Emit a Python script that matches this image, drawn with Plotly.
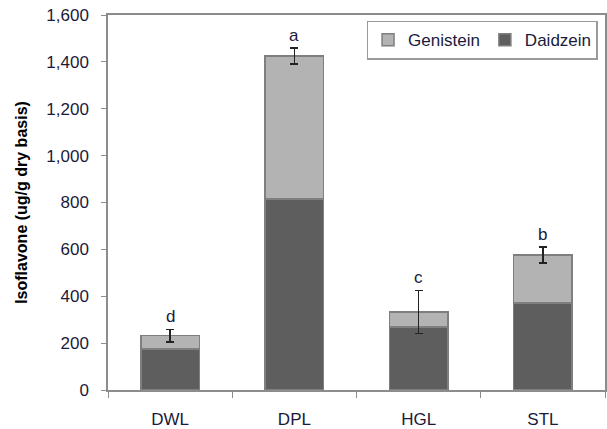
import plotly.graph_objects as go

categories = ["DWL", "DPL", "HGL", "STL"]
daidzein = [175, 815, 269, 371]
genistein_total = [232, 1425, 333, 576]
genistein = [t - d for t, d in zip(genistein_total, daidzein)]
error = [27, 35, 92, 35]
letters = ["d", "a", "c", "b"]

font_family = "Liberation Sans, Arial, sans-serif"
text_color = "#1a1a3a"

fig = go.Figure()
fig.add_trace(go.Bar(
    x=categories, y=daidzein, name="Daidzein",
    marker=dict(color="#5e5e5e", line=dict(color="#7f7f7f", width=1.5)),
    width=0.47,
))
fig.add_trace(go.Bar(
    x=categories, y=genistein, name="Genistein",
    marker=dict(color="#b3b3b3", line=dict(color="#7f7f7f", width=1.5)),
    width=0.47,
    error_y=dict(type="data", array=error, color="#222222", thickness=1.5, width=4),
))

for c, t, e, l in zip(categories, genistein_total, error, letters):
    fig.add_annotation(x=c, y=t + e, text=l, showarrow=False, yanchor="bottom",
                       yshift=1, font=dict(size=17, color=text_color, family=font_family))

fig.update_layout(
    barmode="stack",
    width=607, height=429,
    margin=dict(l=108, r=2, t=15, b=39),
    plot_bgcolor="white", paper_bgcolor="white",
    font=dict(family=font_family, size=17, color=text_color),
    showlegend=True,
    legend=dict(orientation="h", x=0.985, xanchor="right", y=0.985, yanchor="top",
                bordercolor="#9a9a9a", borderwidth=1.5, bgcolor="white",
                traceorder="reversed", font=dict(size=17, color=text_color)),
    bargap=0.53,
)
fig.update_yaxes(
    range=[0, 1600], dtick=200, tickformat=",",
    showgrid=False, zeroline=False, automargin=False,
    showline=True, linecolor="#8c8c8c", linewidth=1.5, mirror=True,
    ticks="outside", ticklen=5, tickcolor="#8c8c8c", ticklabelstandoff=9,
    title=dict(text="<b>Isoflavone (ug/g dry basis)</b>", font=dict(size=16, color="#000000"), standoff=15),
)
fig.update_xaxes(
    showgrid=False, showline=True, linecolor="#8c8c8c", linewidth=1.5, mirror=True,
    ticks="outside", ticklen=6, tickcolor="#8c8c8c", tickson="boundaries", automargin=False,
    ticklabelstandoff=13,
)

fig.write_html("out.html", config={"displayModeBar": False},
               post_script="document.body.style.margin='0';document.body.style.overflow='hidden';")
